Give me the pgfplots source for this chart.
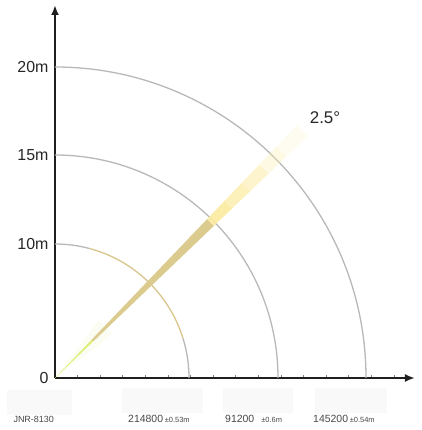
\documentclass[border=0pt]{standalone}
\usepackage{pgfplots}
\pgfplotsset{compat=1.18}
\usepackage{fontspec}
\setmainfont{Liberation Sans}
\usetikzlibrary{arrows.meta}
\definecolor{beamtan}{HTML}{DCCB8E}
\definecolor{beamlight}{HTML}{FBEA9E}
\definecolor{beamgreen}{HTML}{DDEE7A}
\definecolor{arcgray}{HTML}{B8B8B8}
\definecolor{arctan}{HTML}{D8C68C}
\begin{document}
\begin{tikzpicture}
\begin{axis}[
  scale only axis, width=360bp, height=373bp,
  xmin=0, xmax=360, ymin=0, ymax=373,
  axis lines=left,
  axis line style={line width=2.3bp, draw=black!88, -{Latex[length=10bp,width=8bp]}},
  clip=false,
  xtick={22.6,45.2,67.8,90.4,113,135.6,158.2,180.8,203.4,226,248.6,271.2,293.8,316.4,339},
  xticklabels={},
  ytick={0,134,223,311}, yticklabels={0,10m,15m,20m},
  tick align=inside,
  x tick style={draw=black!50, line width=0.6bp},
  major tick length=3bp,
  y tick style={draw=none},
  yticklabel style={font=\fontsize{16}{18}\selectfont, text=black!85, xshift=-3bp},
]
% invisible frame for the page size
\path (axis cs:-55,-52) rectangle (axis cs:367,378);
% faint blocks below axis
\fill[black!2.5] (axis cs:-48,-12) rectangle (axis cs:17,-37);
\fill[black!2.5] (axis cs:67,-10) rectangle (axis cs:148,-35);
\fill[black!2.5] (axis cs:168,-10) rectangle (axis cs:238,-35);
\fill[black!2.5] (axis cs:260,-10) rectangle (axis cs:332,-35);
% range circles
\draw[arcgray, line width=1.3bp] (axis cs:0,311) arc[start angle=90, end angle=0, radius=311bp];
\draw[arcgray, line width=1.3bp] (axis cs:0,223) arc[start angle=90, end angle=0, radius=223bp];
\draw[arcgray, line width=1.3bp] (axis cs:0,134) arc[start angle=90, end angle=75, radius=134bp];
\draw[arctan, line width=1.3bp] (axis cs:34.68,129.43) arc[start angle=75, end angle=17, radius=134bp];
\draw[arcgray, line width=1.3bp] (axis cs:128.15,39.18) arc[start angle=17, end angle=0, radius=134bp];
% beam (2.5 deg wedge at 45 deg)
\addplot[draw=none, fill=beamgreen!40, fill opacity=0.25] coordinates {(0,0) (58,44) (44,58)} -- cycle;
\addplot[draw=none, fill=beamgreen] coordinates {(0,0) (38.29,36.65) (36.65,38.29)} -- cycle;
\addplot[draw=none, fill=beamtan] coordinates {(38.29,36.65) (158.92,152.13) (152.13,158.92) (36.65,38.29)} -- cycle;
\addplot[draw=none, fill=beamlight, fill opacity=0.9] coordinates {(158.92,152.13) (176.98,169.42) (169.42,176.98) (152.13,158.92)} -- cycle;
\addplot[draw=none, fill=beamlight, fill opacity=0.7] coordinates {(176.98,169.42) (195.04,186.71) (186.71,195.04) (169.42,176.98)} -- cycle;
\addplot[draw=none, fill=beamlight, fill opacity=0.5] coordinates {(195.04,186.71) (213.10,204.00) (204.00,213.10) (186.71,195.04)} -- cycle;
\addplot[draw=none, fill=beamlight, fill opacity=0.3] coordinates {(213.10,204.00) (231.16,221.28) (221.28,231.16) (204.00,213.10)} -- cycle;
\addplot[draw=none, fill=beamlight, fill opacity=0.15] coordinates {(231.16,221.28) (252.83,242.03) (242.03,252.83) (221.28,231.16)} -- cycle;
% labels
\node[font=\fontsize{17}{19}\selectfont, text=black!85] at (axis cs:270,260) {2.5°};
\node[anchor=base west, font=\fontsize{9}{10}\selectfont, text=black!72] at (axis cs:-45,-44) {JNR-8130};
\node[anchor=base west, font=\fontsize{10.5}{11}\selectfont, text=black!72, inner sep=0pt] at (axis cs:73,-44) {214800\,{\fontsize{7.5}{8}\selectfont ±0.53m}};
\node[anchor=base west, font=\fontsize{10.5}{11}\selectfont, text=black!72, inner sep=0pt] at (axis cs:170,-44) {91200\hspace{7bp}{\fontsize{7.5}{8}\selectfont ±0.6m}};
\node[anchor=base west, font=\fontsize{10.5}{11}\selectfont, text=black!72, inner sep=0pt] at (axis cs:258,-44) {145200\,{\fontsize{7.5}{8}\selectfont ±0.54m}};
\end{axis}
\end{tikzpicture}
\end{document}
